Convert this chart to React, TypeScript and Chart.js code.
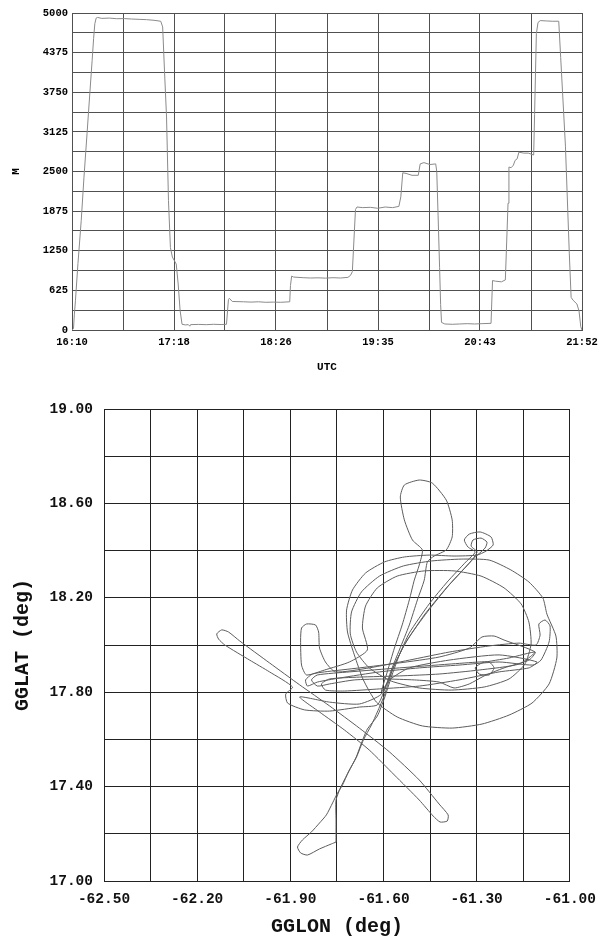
import { useEffect, useRef } from "react";
import { Chart, registerables } from "chart.js";

Chart.register(...registerables);

// ---- Altitude time series (minutes after 00:00 UTC, metres) ----
const altTimeMin = [
  970, 971, 971.6, 972.3, 974, 976.2, 978, 980.1, 982, 983.5, 984.5, 985.3, 986.2, 987.1,
  990, 995, 1000, 1005, 1010, 1015, 1020, 1025, 1029.5, 1030.8, 1032, 1033.4, 1034.7, 1036,
  1037.3, 1038.5, 1039.9, 1041.2, 1042.5, 1043.8, 1046, 1048, 1049, 1049.5, 1055, 1060, 1065,
  1070, 1073.6, 1074.9, 1075.5, 1077.5, 1085, 1090, 1095, 1100, 1105, 1110, 1116, 1116.5,
  1117.3, 1118.6, 1125, 1130, 1135, 1140, 1145, 1150, 1155, 1156.7, 1158, 1160.1, 1161.1,
  1165, 1170, 1175, 1180, 1185, 1189.2, 1190.5, 1191.8, 1194, 1198, 1202.2, 1203.5, 1206,
  1210, 1213.9, 1214.6, 1215.5, 1216.5, 1217.2, 1217.8, 1220, 1225, 1230, 1235, 1240, 1245,
  1251, 1252, 1254, 1258, 1260.6, 1262.4, 1263, 1264.5, 1266, 1267.1, 1268.5, 1269.7, 1273,
  1276, 1279.6, 1280.2, 1281.4, 1282.5, 1284, 1288, 1292, 1296.4, 1297.7, 1300.9, 1303.5,
  1304.7, 1306, 1308.6, 1310, 1311.2, 1312,
];
const altitudeM = [
  0, 20, 250, 460, 1050, 1730, 2400, 3100, 3750, 4250, 4600, 4830, 4920, 4930,
  4915, 4920, 4910, 4912, 4905, 4900, 4895, 4885, 4870, 4780, 4100, 3360, 2040, 1300,
  1150, 1100, 1040, 726, 305, 90, 80, 85, 60, 85, 88, 84, 90,
  86, 90, 480, 500, 450, 445, 440, 445, 437, 440, 437, 445, 700,
  850, 835, 825, 820, 823, 818, 825, 820, 830, 860, 920, 1900, 1940,
  1930, 1935, 1920, 1940, 1930, 1950, 2100, 2480, 2470, 2440, 2440, 2620, 2640,
  2610, 2620, 2500, 1800, 990, 400, 120, 95, 90, 95, 100, 95, 100,
  105, 780, 770, 760, 790, 2000, 2570, 2560, 2600, 2674, 2700, 2805, 2790,
  2790, 2760, 3400, 4674, 4850, 4880, 4875, 4870, 4870, 4300, 2900, 1200,
  515, 470, 410, 300, 50, 0,
];
const utcTickLabels = ["16:10", "17:18", "18:26", "19:35", "20:43", "21:52"];
const altTickLabels = ["0", "625", "1250", "1875", "2500", "3125", "3750", "4375", "5000"];
const UTC_START = 970; // 16:10
const UTC_END = 1312; // 21:52
const ALT_MAX = 5000;

// ---- Flight track (degrees) ----
const trackLon = [
  -61.753, -61.753, -61.753, -61.739, -61.713, -61.688, -61.671, -61.652, -61.62, -61.597,
  -61.575, -61.549, -61.517, -61.453, -61.395, -61.335, -61.305,
  -61.328, -61.34, -61.324, -61.289, -61.254, -61.247, -61.27, -61.299,
  -61.373, -61.453, -61.533, -61.597, -61.658, -61.7, -61.719, -61.716, -61.694, -61.665,
  -61.623, -61.556, -61.475, -61.379, -61.283, -61.196, -61.122, -61.067, -61.042, -61.045,
  -61.074, -61.087, -61.132, -61.19, -61.26,
  -61.35, -61.446, -61.536, -61.613, -61.671, -61.703, -61.707, -61.687, -61.646, -61.575,
  -61.485, -61.382, -61.276, -61.196, -61.145, -61.125, -61.132, -61.157, -61.212, -61.286,
  -61.373, -61.469, -61.556, -61.62, -61.658, -61.668, -61.652,
  -61.71, -61.79, -61.848, -61.864, -61.867, -61.864, -61.848, -61.819, -61.809, -61.806,
  -61.787, -61.755,
  -61.646, -61.517, -61.389, -61.26, -61.164, -61.109,
  -61.096, -61.1, -61.08, -61.064, -61.067, -61.093, -61.119,
  -61.228, -61.357, -61.485, -61.613, -61.742, -61.813,
  -61.845, -61.851, -61.829, -61.79,
  -61.678, -61.549, -61.421, -61.324, -61.283, -61.244, -61.212, -61.112,
  -61.132, -61.212, -61.276, -61.324, -61.373, -61.421, -61.501, -61.597, -61.694, -61.774,
  -61.813,
  -61.832, -61.813,
  -61.71, -61.549, -61.389, -61.292, -61.26, -61.244, -61.26, -61.292, -61.305, -61.283,
  -61.196, -61.112,
  -61.164, -61.292, -61.421, -61.549, -61.678, -61.774, -61.8, -61.787, -61.726, -61.613,
  -61.485, -61.357, -61.228, -61.132, -61.106,
  -61.228, -61.389, -61.517, -61.581, -61.607,
  -61.588, -61.565, -61.54, -61.517, -61.501, -61.485, -61.475,
  -61.507, -61.533, -61.546, -61.533, -61.485, -61.443, -61.398, -61.379, -61.379, -61.398,
  -61.437, -61.459,
  -61.469, -61.491, -61.517, -61.549, -61.575, -61.597, -61.62,
  -61.678, -61.774, -61.854, -61.909, -61.915, -61.893,
  -61.967, -62.031, -62.111, -62.131, -62.137, -62.121, -62.099, -62.063, -61.967, -61.87,
  -61.774, -61.678, -61.581, -61.485, -61.421, -61.392, -61.395, -61.418, -61.44, -61.485,
  -61.565, -61.646, -61.726, -61.806, -61.87,
  -61.774, -61.678, -61.607,
  -61.565, -61.533, -61.469, -61.395, -61.324, -61.299,
  -61.318, -61.312, -61.286, -61.267, -61.273,
  -61.308, -61.389, -61.459, -61.524, -61.569, -61.597, -61.62, -61.639, -61.665, -61.687,
  -61.713, -61.732, -61.748, -61.764, -61.784, -61.806, -61.832, -61.861, -61.877, -61.867,
  -61.845, -61.806, -61.768, -61.753,
];
const trackLat = [
  17.165, 17.258, 17.343, 17.394, 17.462, 17.525, 17.585, 17.644, 17.699, 17.775,
  17.864, 17.958, 18.051, 18.174, 18.267, 18.352, 18.394,
  18.415, 18.445, 18.47, 18.479, 18.458, 18.424, 18.398, 18.381,
  18.377, 18.381, 18.373, 18.352, 18.305, 18.233, 18.148, 18.055, 17.958, 17.852,
  17.758, 17.695, 17.657, 17.648, 17.665, 17.703, 17.754, 17.835, 17.945, 18.038,
  18.131, 18.199, 18.267, 18.318, 18.36,
  18.364, 18.356, 18.335, 18.292, 18.225, 18.14, 18.047, 17.97, 17.903, 17.847,
  17.818, 17.809, 17.822, 17.856, 17.919, 18.004, 18.097, 18.174, 18.242, 18.292,
  18.314, 18.314, 18.292, 18.242, 18.165, 18.072, 17.979,
  17.928, 17.894, 17.873, 17.915, 18.021, 18.072, 18.089, 18.085, 18.055, 17.987,
  17.928, 17.886,
  17.903, 17.936, 17.97, 17.996, 18.008, 18.0,
  18.042, 18.089, 18.106, 18.081, 18.013, 17.936, 17.915,
  17.928, 17.915, 17.903, 17.886, 17.86, 17.843,
  17.826, 17.852, 17.877, 17.886,
  17.903, 17.924, 17.949, 17.987, 18.034, 18.038, 18.021, 17.97,
  17.936, 17.903, 17.869, 17.835, 17.818, 17.843, 17.852, 17.856, 17.852, 17.835,
  17.826,
  17.852, 17.873,
  17.886, 17.903, 17.919, 17.928, 17.928, 17.903, 17.873, 17.877, 17.903, 17.924,
  17.945, 17.97,
  17.919, 17.894, 17.877, 17.869, 17.864, 17.856, 17.835, 17.809, 17.805, 17.814,
  17.826, 17.852, 17.886, 17.903, 17.928,
  17.958, 17.936, 17.903, 17.852, 17.801,
  17.886, 17.987, 18.085, 18.191, 18.275, 18.339, 18.403,
  18.445, 18.53, 18.627, 18.678, 18.699, 18.686, 18.614, 18.53, 18.458, 18.403,
  18.377, 18.352,
  18.275, 18.191, 18.085, 17.979, 17.894, 17.809, 17.746,
  17.737, 17.72, 17.725, 17.754, 17.792, 17.822,
  17.886, 17.936, 18.0, 18.025, 18.047, 18.064, 18.055, 18.017, 17.924, 17.831,
  17.742, 17.648, 17.547, 17.428, 17.326, 17.28, 17.254, 17.25, 17.275, 17.343,
  17.449, 17.555, 17.64, 17.716, 17.78,
  17.758, 17.75, 17.792,
  17.915, 18.0, 18.127, 18.246, 18.347, 18.394,
  18.419, 18.445, 18.453, 18.436, 18.411,
  18.369, 18.254, 18.14, 18.021, 17.903, 17.788, 17.716, 17.661, 17.597, 17.525,
  17.462, 17.407, 17.373, 17.331, 17.28, 17.246, 17.208, 17.174, 17.144, 17.119,
  17.11, 17.136, 17.157, 17.165,
];
const lonTickLabels = ["-62.50", "-62.20", "-61.90", "-61.60", "-61.30", "-61.00"];
const latTickLabels = ["17.00", "17.40", "17.80", "18.20", "18.60", "19.00"];
const LON_MIN = -62.5;
const LON_MAX = -61.0;
const LAT_MIN = 17.0;
const LAT_MAX = 19.0;

const MONO = "'Liberation Mono', 'DejaVu Sans Mono', monospace";

function evenTicks(min: number, max: number, n: number) {
  const out: { value: number }[] = [];
  for (let i = 0; i <= n; i++) out.push({ value: min + ((max - min) * i) / n });
  return out;
}

function AltitudeChart() {
  const ref = useRef<HTMLCanvasElement | null>(null);
  useEffect(() => {
    if (!ref.current) return;
    const pts = altTimeMin.map((t, i) => ({ x: t, y: altitudeM[i] }));
    const gridColor = "#505050";
    const chart = new Chart(ref.current, {
      type: "scatter",
      data: {
        datasets: [
          {
            data: pts,
            showLine: true,
            borderColor: "#8a8a8a",
            borderWidth: 1,
            pointRadius: 0,
          },
        ],
      },
      options: {
        animation: false,
        responsive: false,
        events: [],
        layout: { padding: { left: 0, right: 24, top: 13, bottom: 0 } },
        plugins: { legend: { display: false }, tooltip: { enabled: false } },
        scales: {
          x: {
            type: "linear",
            min: UTC_START,
            max: UTC_END,
            afterBuildTicks: (s: any) => {
              s.ticks = evenTicks(UTC_START, UTC_END, 10);
            },
            afterFit: (s: any) => {
              s.height = 55;
            },
            grid: { color: gridColor, lineWidth: 1, drawTicks: false },
            border: { color: gridColor, width: 1 },
            ticks: {
              autoSkip: false,
              maxRotation: 0,
              padding: 6,
              color: "#000",
              font: { family: MONO, size: 10.5, weight: "bold" },
              callback: (_v: any, i: number) => (i % 2 === 0 ? utcTickLabels[i / 2] : ""),
            },
            title: {
              display: true,
              text: "UTC",
              color: "#000",
              font: { family: MONO, size: 11, weight: "bold" },
              padding: { top: 0, bottom: 11 },
            },
          },
          y: {
            type: "linear",
            min: 0,
            max: ALT_MAX,
            afterBuildTicks: (s: any) => {
              s.ticks = evenTicks(0, ALT_MAX, 16);
            },
            afterFit: (s: any) => {
              s.width = 72;
            },
            grid: { color: gridColor, lineWidth: 1, drawTicks: false },
            border: { color: gridColor, width: 1 },
            ticks: {
              autoSkip: false,
              padding: 4,
              color: "#000",
              font: { family: MONO, size: 10.5, weight: "bold" },
              callback: (_v: any, i: number) => (i % 2 === 0 ? altTickLabels[i / 2] : ""),
            },
            title: {
              display: true,
              text: "M",
              color: "#000",
              font: { family: MONO, size: 11, weight: "bold" },
              padding: { top: 10, bottom: 0 },
            },
          },
        },
      },
    });
    return () => chart.destroy();
  }, []);
  return (
    <canvas
      ref={ref}
      width={606}
      height={385}
      style={{ position: "absolute", left: 0, top: 0, width: 606, height: 385, filter: "blur(0.4px)" }}
    />
  );
}

function TrackChart() {
  const ref = useRef<HTMLCanvasElement | null>(null);
  useEffect(() => {
    if (!ref.current) return;
    const pts = trackLon.map((lon, i) => ({ x: lon, y: trackLat[i] }));
    const gridColor = "#222";
    const chart = new Chart(ref.current, {
      type: "scatter",
      data: {
        datasets: [
          {
            data: pts,
            showLine: true,
            borderColor: "#5c5c5c",
            borderWidth: 1,
            pointRadius: 0,
            tension: 0.2,
          },
        ],
      },
      options: {
        animation: false,
        responsive: false,
        events: [],
        layout: { padding: { left: 0, right: 35, top: 24, bottom: 0 } },
        plugins: { legend: { display: false }, tooltip: { enabled: false } },
        scales: {
          x: {
            type: "linear",
            min: LON_MIN,
            max: LON_MAX,
            afterBuildTicks: (s: any) => {
              s.ticks = evenTicks(LON_MIN, LON_MAX, 10);
            },
            afterFit: (s: any) => {
              s.height = 60;
            },
            grid: { color: gridColor, lineWidth: 1, drawTicks: false },
            border: { color: gridColor, width: 1 },
            ticks: {
              autoSkip: false,
              maxRotation: 0,
              padding: 10,
              color: "#111",
              font: { family: MONO, size: 14.5, weight: "bold" },
              callback: (_v: any, i: number) => (i % 2 === 0 ? lonTickLabels[i / 2] : ""),
            },
            title: {
              display: true,
              text: "GGLON (deg)",
              color: "#111",
              font: { family: MONO, size: 20, weight: "bold" },
              padding: { top: 0, bottom: 2 },
            },
          },
          y: {
            type: "linear",
            min: LAT_MIN,
            max: LAT_MAX,
            afterBuildTicks: (s: any) => {
              s.ticks = evenTicks(LAT_MIN, LAT_MAX, 10);
            },
            afterFit: (s: any) => {
              s.width = 104;
            },
            grid: { color: gridColor, lineWidth: 1, drawTicks: false },
            border: { color: gridColor, width: 1 },
            ticks: {
              autoSkip: false,
              padding: 11,
              color: "#111",
              font: { family: MONO, size: 14.5, weight: "bold" },
              callback: (_v: any, i: number) => (i % 2 === 0 ? latTickLabels[i / 2] : ""),
            },
            title: {
              display: true,
              text: "GGLAT (deg)",
              color: "#111",
              font: { family: MONO, size: 20, weight: "bold" },
              padding: { top: 11, bottom: 0 },
            },
          },
        },
      },
    });
    return () => chart.destroy();
  }, []);
  return (
    <canvas
      ref={ref}
      width={606}
      height={556}
      style={{ position: "absolute", left: 0, top: 385, width: 606, height: 556 }}
    />
  );
}

export default function App() {
  return (
    <div style={{ position: "absolute", left: 0, top: 0, width: 606, height: 941, background: "#fff" }}>
      <AltitudeChart />
      <TrackChart />
    </div>
  );
}
